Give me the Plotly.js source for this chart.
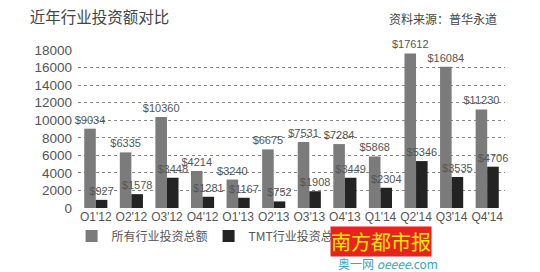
<!DOCTYPE html>
<html><head><meta charset="utf-8">
<script src="https://cdn.plot.ly/plotly-3.0.1.min.js"></script>
<style>html,body{margin:0;padding:0;background:#fff}#c{width:540px;height:272px}</style>
</head><body><div id="c"></div>
<script>
const categories = ["Q1'12","Q2'12","Q3'12","Q4'12","Q1'13","Q2'13","Q3'13","Q4'13","Q1'14","Q2'14","Q3'14","Q4'14"];
const allIndustry = [9034, 6335, 10360, 4214, 3240, 6675, 7531, 7284, 5868, 17612, 16084, 11230];
const tmtIndustry = [927, 1578, 3448, 1281, 1167, 752, 1908, 3449, 2304, 5346, 3535, 4706];
const seriesNames = ["所有行业投资总额", "TMT行业投资总额"];
const yTicks = [0,2000,4000,6000,8000,10000,12000,14000,16000,18000];

const cjk = "'Noto Sans CJK SC', sans-serif";
const num = "'Liberation Sans', Arial, sans-serif";
const traces = [
  {type:'bar', x:categories, y:allIndustry, name:seriesNames[0],
   marker:{color:'#7b7b7b'}, text:allIndustry.map(v=>'$'+v), textposition:'outside', constraintext:'none',
   textfont:{size:11, color:'#555', family:num}, cliponaxis:false},
  {type:'bar', x:categories, y:tmtIndustry, name:seriesNames[1],
   marker:{color:'#232323'}, text:tmtIndustry.map(v=>'$'+v), textposition:'outside', constraintext:'none',
   textfont:{size:11, color:'#555', family:num}, cliponaxis:false}
];
const layout = {
  width:540, height:272,
  margin:{l:78, r:35, t:50, b:64},
  paper_bgcolor:'#fff', plot_bgcolor:'#fff',
  barmode:'group', bargap:0.35, bargroupgap:0,
  font:{family:num, color:'#555'},
  showlegend:true,
  legend:{orientation:'h', x:-0.015, xanchor:'left', y:-0.085, yanchor:'top',
          font:{size:12, color:'#555', family:cjk}, entrywidth:92, entrywidthmode:'pixels'},
  xaxis:{type:'category', tickfont:{size:12, color:'#555', family:num}, showgrid:false, showline:false, ticks:'', zeroline:false},
  yaxis:{range:[0,18000], tickvals:yTicks, ticktext:yTicks.map(String), tickfont:{size:13.5, color:'#555', family:num},
         ticklabelstandoff:5,
         showgrid:true, gridcolor:'#888', griddash:'dot', gridwidth:1, zeroline:false, ticks:'', showline:false, automargin:false},
  title:{text:'近年行业投资额对比', x:0.055, xanchor:'left', y:0.935, yanchor:'middle', font:{size:15.5, color:'#444', family:cjk}},
  annotations:[
    {text:'资料来源：普华永道', xref:'paper', yref:'paper', x:0.985, y:1.2, xanchor:'right', yanchor:'middle', showarrow:false, font:{size:12, color:'#444', family:cjk}},
    {text:'南方都市报', xref:'paper', yref:'paper', x:0.59, y:-0.14, xanchor:'left', yanchor:'top', showarrow:false, yshift:4, bgcolor:'#e8231d', borderpad:0, font:{size:20, color:'#ffe600', family:cjk}},
    {text:'奥一网 <i>oeeee</i>.com', xref:'paper', yref:'paper', x:0.605, y:-0.31, xanchor:'left', yanchor:'top', showarrow:false, yshift:4, font:{size:12, color:'#3aa6b5', family:cjk}}
  ]
};
Plotly.newPlot('c', traces, layout, {displayModeBar:false, staticPlot:true});
</script></body></html>
